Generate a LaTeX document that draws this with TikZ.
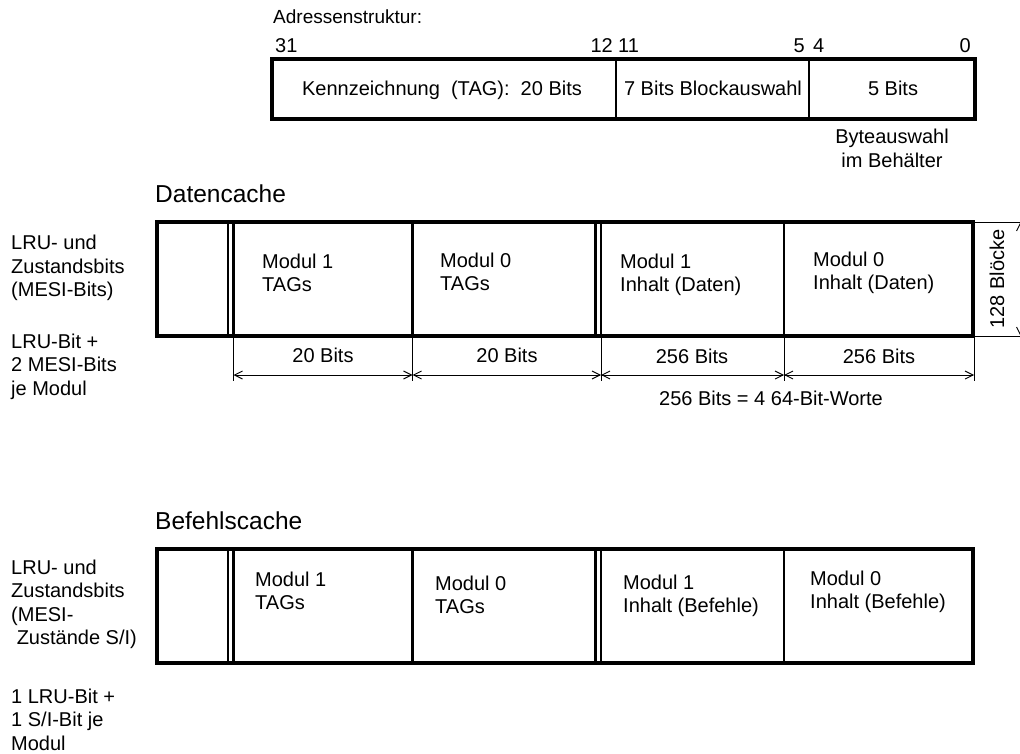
\documentclass[tikz,border=0pt]{standalone}
\usepackage{fontspec}
\setmainfont{Liberation Sans}
\usetikzlibrary{arrows.meta}
\newcommand{\mlines}[1]{\begin{tabular}[t]{@{}l@{}}#1\end{tabular}}
\newcommand{\mlinesc}[1]{\begin{tabular}[t]{@{}c@{}}#1\end{tabular}}
\begin{document}
\begin{tikzpicture}[x=1pt,y=-1pt,
  txt/.style={font=\fontsize{20}{23.5}\selectfont, inner sep=0pt, anchor=base west},
  ctxt/.style={font=\fontsize{20}{24}\selectfont, inner sep=0pt, anchor=base},
  rtxt/.style={font=\fontsize{20}{24}\selectfont, inner sep=0pt, anchor=base east},
  title/.style={font=\fontsize{24.5}{30}\selectfont, inner sep=0pt, anchor=base west},
  frame/.style={draw, line width=3.2pt},
  divider/.style={line width=2.6pt},
  thinline/.style={line width=0.9pt},
  dimarrow/.style={line width=0.9pt, {Straight Barb[length=8pt,width=8pt]}-{Straight Barb[length=8pt,width=8pt]}}
]
\useasboundingbox (0,0) rectangle (1020,754);

% ---------- Address structure ----------
\node[txt, font=\fontsize{19}{23}\selectfont] (adr) at (273,24) {Adressenstruktur:};
\node[txt] (n31) at (275,53) {31};
\node[rtxt] (n12) at (613,53) {12};
\node[txt] (n11) at (618,53) {11};
\node[rtxt] (n5) at (805,53) {5};
\node[txt] (n4) at (813,53) {4};
\node[rtxt] (n0) at (971,53) {0};
\draw[frame] (272,59) rectangle (975,119);
\draw[divider] (616,59) -- (616,119);
\draw[divider] (809,59) -- (809,119);
\node[ctxt] (tagf) at (442,96) {Kennzeichnung\ \ (TAG):\ \ 20 Bits};
\node[ctxt] (blkf) at (713,96) {7 Bits Blockauswahl};
\node[ctxt] (bytf) at (893,96) {5 Bits};
\node[ctxt] (bytl) at (892,144) {\mlinesc{Byteauswahl\\im Behälter}};

% ---------- Datencache ----------
\node[title] (dtitle) at (155,203) {Datencache};
\node[txt] (dleft1) at (11,250) {\mlines{LRU- und\\Zustandsbits\\(MESI-Bits)}};
\node[txt] (dleft2) at (11,348) {\mlines{LRU-Bit +\\2 MESI-Bits\\je Modul}};
\draw[frame] (157,222) rectangle (973,336);
\draw[divider] (228,222) -- (228,336);
\draw[divider] (233.5,222) -- (233.5,336);
\draw[divider] (412.5,222) -- (412.5,336);
\draw[divider] (595.5,222) -- (595.5,336);
\draw[divider] (601,222) -- (601,336);
\draw[divider] (784,222) -- (784,336);
\node[txt] (d1) at (262,268) {\mlines{Modul 1\\TAGs}};
\node[txt] (d2) at (440,267) {\mlines{Modul 0\\TAGs}};
\node[txt] (d3) at (620,268) {\mlines{Modul 1\\Inhalt (Daten)}};
\node[txt] (d4) at (813,266) {\mlines{Modul 0\\Inhalt (Daten)}};

% extension lines
\foreach \xx in {233.5,412.5,601,784,974}
  \draw[thinline] (\xx,337) -- (\xx,381);
\coordinate (a1) at (233.5,375);
\coordinate (a2) at (412.5,375);
\coordinate (a3) at (601,375);
\coordinate (a4) at (784,375);
\coordinate (a5) at (974,375);
\draw[dimarrow] (a1) -- (a2);
\draw[dimarrow] (a2) -- (a3);
\draw[dimarrow] (a3) -- (a4);
\draw[dimarrow] (a4) -- (a5);
\node[ctxt] (w1) at (323,362) {20 Bits};
\node[ctxt] (w2) at (507,362) {20 Bits};
\node[ctxt] (w3) at (692,363) {256 Bits};
\node[ctxt] (w4) at (879,363) {256 Bits};
\node[ctxt] (wn) at (771,405) {256 Bits = 4 64-Bit-Worte};

% 128 Bloecke dimension
\draw[thinline] (974,222) -- (1020,222);
\draw[thinline] (974,336) -- (1020,336);
\coordinate (b1) at (1020.5,222);
\coordinate (b2) at (1020.5,336);
\draw[dimarrow] (b1) -- (b2);
\node[font=\fontsize{20}{24}\selectfont, inner sep=0pt, rotate=90, anchor=base] (blk) at (1004,279) {128 Blöcke};

% ---------- Befehlscache ----------
\node[title] (btitle) at (155,529) {Befehlscache};
\node[txt] (bleft1) at (11,574) {\mlines{LRU- und\\Zustandsbits\\(MESI-\\\ Zustände S/I)}};
\node[txt] (bleft2) at (11,703) {\mlines{1 LRU-Bit +\\1 S/I-Bit je\\Modul}};
\draw[frame] (157,549) rectangle (973,663);
\draw[divider] (228,549) -- (228,663);
\draw[divider] (233.5,549) -- (233.5,663);
\draw[divider] (412.5,549) -- (412.5,663);
\draw[divider] (595.5,549) -- (595.5,663);
\draw[divider] (601,549) -- (601,663);
\draw[divider] (784,549) -- (784,663);
\node[txt] (e1) at (255,586) {\mlines{Modul 1\\TAGs}};
\node[txt] (e2) at (435,590) {\mlines{Modul 0\\TAGs}};
\node[txt] (e3) at (623,589) {\mlines{Modul 1\\Inhalt (Befehle)}};
\node[txt] (e4) at (810,585) {\mlines{Modul 0\\Inhalt (Befehle)}};
\end{tikzpicture}
\end{document}
